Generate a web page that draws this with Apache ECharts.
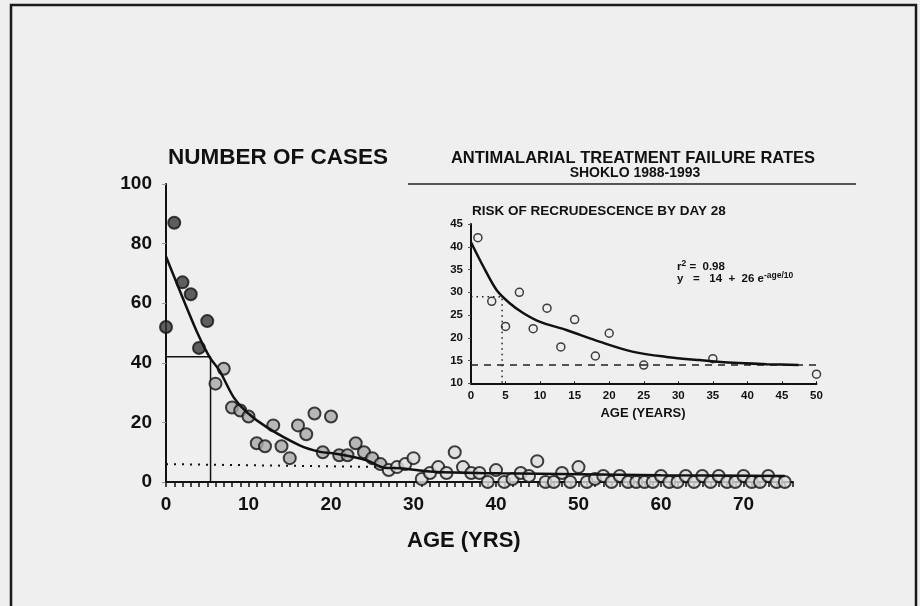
<!DOCTYPE html>
<html>
<head>
<meta charset="utf-8">
<script src="https://cdn.jsdelivr.net/npm/echarts@6/dist/echarts.min.js"></script>
<style>
  html, body { margin: 0; padding: 0; background: #efefef; }
  #chart { width: 920px; height: 606px; }
</style>
</head>
<body>
<div id="chart"></div>
<script>
// main chart: number of cases by age
const ages = [];
for (let a = 0; a <= 75; a++) ages.push(a);
const cases = [52, 87, 67, 63, 45, 54, 33, 38, 25, 24, 22, 13, 12, 19, 12, 8, 19, 16, 23, 10,
               22, 9, 9, 13, 10, 8, 6, 4, 5, 6, 8, 1, 3, 5, 3, 10, 5, 3, 3, 0,
               4, 0, 1, 3, 2, 7, 0, 0, 3, 0, 5, 0, 1, 2, 0, 2, 0, 0, 0, 0,
               2, 0, 0, 2, 0, 2, 0, 2, 0, 0, 2, 0, 0, 2, 0, 0];
// fitted curve as drawn
const curveAge = [0, 3.7, 5.3, 6.5, 8.2, 9.8, 12.2, 16.2, 18.7, 20.3, 24.3, 26.3, 28.4, 32.4, 40.5, 50, 60, 75];
const curveVal = [75.7, 50.7, 41.8, 37.3, 28.4, 23.4, 18.4, 12.3, 10.1, 9.6, 7.3, 4.9, 4.6, 3.4, 2.9, 2.6, 2.3, 2];
const medianAge = 5.4, medianCum = 42;
const dotAge = [0, 27], dotVal = [6, 5];

// inset: risk of recrudescence by day 28
const riskAge = [1, 3, 5, 7, 9, 11, 13, 15, 18, 20, 25, 35, 50];
const riskVal = [42, 28, 22.5, 30, 22, 26.5, 18, 24, 16, 21, 14, 15.4, 12];
const fitAge = [0, 1.8, 3.7, 5.6, 7.6, 10, 13.8, 18.7, 23.5, 28.3, 33.1, 38, 42.8, 47.4];
const fitVal = [41, 35.6, 30.5, 27.6, 25.4, 23.5, 21.7, 19.1, 16.9, 15.8, 15.1, 14.5, 14.2, 14];
const asymptote = 14;
const riskAt5 = 29, ageAt5 = 4.5;

const FONT = "'Liberation Sans', Arial, sans-serif";
const chart = echarts.init(document.getElementById('chart'));

const zip = (xs, ys) => xs.map((x, i) => [x, ys[i]]);

chart.setOption({
  backgroundColor: '#efefef',
  animation: false,
  grid: [
    { left: 166, top: 184, width: 627, height: 298 },
    { left: 471, top: 224, width: 345.5, height: 159.3 }
  ],
  xAxis: [
    {
      gridIndex: 0, type: 'value', min: 0, max: 76, interval: 1,
      axisLine: { lineStyle: { color: '#111', width: 2 } },
      axisTick: { length: 5, lineStyle: { color: '#111', width: 1.5 } },
      axisLabel: {
        interval: 0, margin: 13, color: '#111', fontFamily: FONT, fontWeight: 'bold', fontSize: 19,
        formatter: v => (v % 10 === 0 ? String(v) : '')
      },
      splitLine: { show: false }
    },
    {
      gridIndex: 1, type: 'value', min: 0, max: 50, interval: 5,
      axisLine: { lineStyle: { color: '#111', width: 2 } },
      axisTick: { inside: true, length: 2, lineStyle: { color: '#111' } },
      axisLabel: { margin: 7, color: '#111', fontFamily: FONT, fontWeight: 'bold', fontSize: 11.5 },
      splitLine: { show: false }
    }
  ],
  yAxis: [
    {
      gridIndex: 0, type: 'value', min: 0, max: 100, interval: 20,
      axisLine: { show: true, lineStyle: { color: '#111', width: 2 } },
      axisTick: { show: true, length: 4, lineStyle: { color: '#999' } },
      axisLabel: { margin: 14, color: '#111', fontFamily: FONT, fontWeight: 'bold', fontSize: 19 },
      splitLine: { show: false }
    },
    {
      gridIndex: 1, type: 'value', min: 10, max: 45, interval: 5,
      axisLine: { show: true, lineStyle: { color: '#111', width: 2 } },
      axisTick: { show: true, length: 3, lineStyle: { color: '#555' } },
      axisLabel: { margin: 8, color: '#111', fontFamily: FONT, fontWeight: 'bold', fontSize: 11.5 },
      splitLine: { show: false }
    }
  ],
  series: [
    {
      type: 'line', xAxisIndex: 0, yAxisIndex: 0, symbol: 'none',
      data: [[0, medianCum], [medianAge, medianCum], [medianAge, 0]],
      lineStyle: { color: '#111', width: 1.5 }, z: 2
    },
    {
      type: 'line', xAxisIndex: 0, yAxisIndex: 0, symbol: 'none',
      data: zip(dotAge, dotVal),
      lineStyle: { color: '#111', width: 2, type: [2, 6] }, z: 2
    },
    {
      type: 'scatter', xAxisIndex: 0, yAxisIndex: 0, symbolSize: 12,
      data: zip(ages, cases),
      itemStyle: {
        color: p => (p.data[0] <= 5 ? '#3a3a3a' : p.data[0] <= 26 ? '#a9a9a9' : '#dcdcdc'),
        borderColor: '#111', borderWidth: 2
      },
      z: 3
    },
    {
      type: 'line', xAxisIndex: 0, yAxisIndex: 0, symbol: 'none', smooth: 0.3,
      data: zip(curveAge, curveVal),
      lineStyle: { color: '#111', width: 2.5 }, z: 4
    },
    {
      type: 'line', xAxisIndex: 1, yAxisIndex: 1, symbol: 'none',
      data: [[0, asymptote], [50, asymptote]],
      lineStyle: { color: '#222', width: 1.5, type: [7, 6] }
    },
    {
      type: 'line', xAxisIndex: 1, yAxisIndex: 1, symbol: 'none',
      data: [[0, riskAt5], [ageAt5, riskAt5], [ageAt5, 10]],
      lineStyle: { color: '#222', width: 1.5, type: [1.5, 4] }
    },
    {
      type: 'scatter', xAxisIndex: 1, yAxisIndex: 1, symbolSize: 8,
      data: zip(riskAge, riskVal),
      itemStyle: { color: '#efefef', borderColor: '#111', borderWidth: 1.5 }
    },
    {
      type: 'line', xAxisIndex: 1, yAxisIndex: 1, symbol: 'none', smooth: 0.3,
      data: zip(fitAge, fitVal),
      lineStyle: { color: '#111', width: 2.5 }
    }
  ],
  graphic: [
    {
      type: 'polyline', silent: true,
      shape: { points: [[11, 606], [11, 5], [916, 5], [916, 606]] },
      style: { stroke: '#1a1a1a', lineWidth: 2.5, fill: null }
    },
    {
      type: 'text', left: 168, top: 146,
      style: { text: 'NUMBER OF CASES', font: "bold 22.5px " + FONT, fill: '#111' }
    },
    {
      type: 'text', left: 407, top: 530,
      style: { text: 'AGE (YRS)', font: "bold 22px " + FONT, fill: '#111' }
    },
    {
      type: 'text', x: 633, y: 150,
      style: { text: 'ANTIMALARIAL TREATMENT FAILURE RATES', font: "bold 16.5px " + FONT, fill: '#111', align: 'center' }
    },
    {
      type: 'text', x: 635, y: 166,
      style: { text: 'SHOKLO 1988-1993', font: "bold 14px " + FONT, fill: '#111', align: 'center' }
    },
    {
      type: 'line', shape: { x1: 408, y1: 184, x2: 856, y2: 184 },
      style: { stroke: '#222', lineWidth: 1.5 }
    },
    {
      type: 'text', x: 472, y: 204,
      style: { text: 'RISK OF RECRUDESCENCE BY DAY 28', font: "bold 13.5px " + FONT, fill: '#111' }
    },
    {
      type: 'text', x: 643, y: 407,
      style: { text: 'AGE (YEARS)', font: "bold 13px " + FONT, fill: '#111', align: 'center' }
    },
    {
      type: 'text', x: 677, y: 261,
      style: {
        text: '{n|r}{s|2}{n| =  0.98}\n{n|y   =   14  +  26 e}{s|-age/10}',
        fill: '#111',
        rich: {
          n: { font: "bold 11.5px " + FONT, lineHeight: 12 },
          s: { font: "bold 8.5px " + FONT, lineHeight: 12, padding: [0, 0, 6, 0] }
        }
      }
    }
  ]
});
</script>
</body>
</html>
